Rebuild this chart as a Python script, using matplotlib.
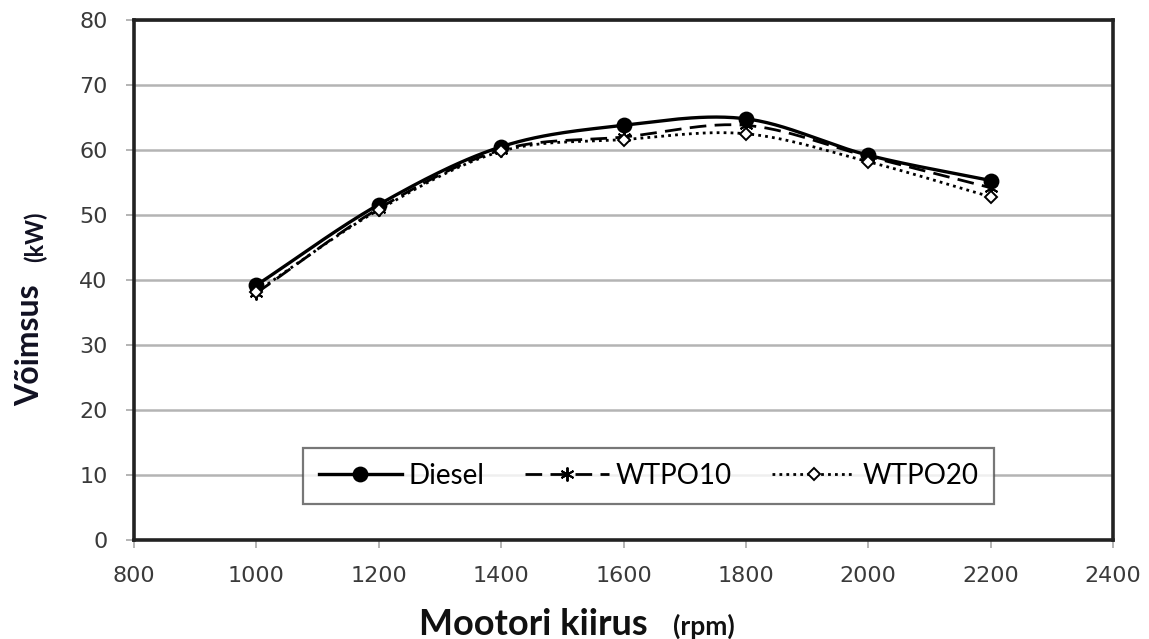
import numpy as np
import matplotlib
matplotlib.use("Agg")
import matplotlib.pyplot as plt

# engine speed (rpm) and power (kW) per fuel
speed = [1000, 1200, 1400, 1600, 1800, 2000, 2200]
diesel = [39.2, 51.6, 60.5, 63.8, 64.8, 59.2, 55.3]
wtpo10 = [38.0, 51.0, 60.0, 62.0, 63.8, 59.0, 54.2]
wtpo20 = [38.2, 50.8, 59.8, 61.6, 62.5, 58.2, 52.8]


def smooth(x, y, n=30):
    # Catmull-Rom curve through the points, like a spreadsheet "smoothed line"
    x = np.asarray(x, float)
    y = np.asarray(y, float)
    px = np.concatenate([[2 * x[0] - x[1]], x, [2 * x[-1] - x[-2]]])
    py = np.concatenate([[2 * y[0] - y[1]], y, [2 * y[-1] - y[-2]]])
    xs, ys = [], []
    t = np.linspace(0, 1, n)
    for i in range(1, len(px) - 2):
        for arr, out in ((px, xs), (py, ys)):
            p0, p1, p2, p3 = arr[i - 1], arr[i], arr[i + 1], arr[i + 2]
            out.extend(0.5 * ((2 * p1) + (-p0 + p2) * t
                              + (2 * p0 - 5 * p1 + 4 * p2 - p3) * t ** 2
                              + (-p0 + 3 * p1 - 3 * p2 + p3) * t ** 3))
    return np.array(xs), np.array(ys)


fig = plt.figure(figsize=(11.49, 6.39), dpi=100)
ax = fig.add_axes([0.1166, 0.1549, 0.8521, 0.8138])

series = [
    ("Diesel", diesel, "-", "o", "black", 2.4, 10),
    ("WTPO10", wtpo10, (0, (6, 3)), (6, 2, 0), "black", 2.0, 10),
    ("WTPO20", wtpo20, (0, (1, 1.5)), "D", "white", 2.0, 6.5),
]
handles = []
for name, vals, ls, mk, mfc, lw, ms in series:
    sx, sy = smooth(speed, vals)
    ax.plot(sx, sy, color="black", linestyle=ls, linewidth=lw, zorder=3)
    ax.plot(speed, vals, linestyle="none", marker=mk, markersize=ms,
            markerfacecolor=mfc, markeredgecolor="black", markeredgewidth=1.4, zorder=4)
    h, = ax.plot([], [], color="black", linestyle=ls, linewidth=lw, marker=mk,
                 markersize=ms, markerfacecolor=mfc, markeredgecolor="black",
                 markeredgewidth=1.4)
    handles.append(h)

ax.set_xlim(800, 2400)
ax.set_ylim(0, 80)
ax.set_xticks(range(800, 2401, 200))
ax.set_yticks(range(0, 81, 10))
ax.yaxis.grid(True, color="#b4b4b4", linewidth=1.8)
ax.set_axisbelow(True)
for s in ax.spines.values():
    s.set_linewidth(2.6)
    s.set_color("#222222")
ax.tick_params(axis="both", direction="out", length=6, width=1.2, color="#a8a8a8",
               labelsize=16, labelcolor="#3a3a3a", pad=13)

leg = ax.legend(handles, ["Diesel", "WTPO10", "WTPO20"], loc="center",
                bbox_to_anchor=(0.5255, 0.123), ncol=3, frameon=True, fancybox=False,
                handlelength=3.0, handletextpad=0.25, columnspacing=1.45,
                borderpad=0.55, borderaxespad=0,
                prop={"family": "Lato", "size": 20})
leg.get_frame().set_edgecolor("#555555")
leg.get_frame().set_linewidth(1.6)

fig.text(0.5635, 0.006, "Mootori kiirus", fontsize=26, fontweight="bold",
         family="Lato", ha="right", va="baseline", color="#111111")
fig.text(0.5855, 0.006, "(rpm)", fontsize=19, fontweight="bold",
         family="Lato", ha="left", va="baseline", color="#111111")
fig.text(0.026, 0.46, "Võimsus", fontsize=23, fontweight="bold", family="Lato",
         rotation=90, ha="center", va="center", color="#111122")
fig.text(0.031, 0.629, "(kW)", fontsize=17, fontweight="bold", family="Lato",
         rotation=90, ha="center", va="center", color="#111122")

fig.savefig("out.png", dpi=100)
